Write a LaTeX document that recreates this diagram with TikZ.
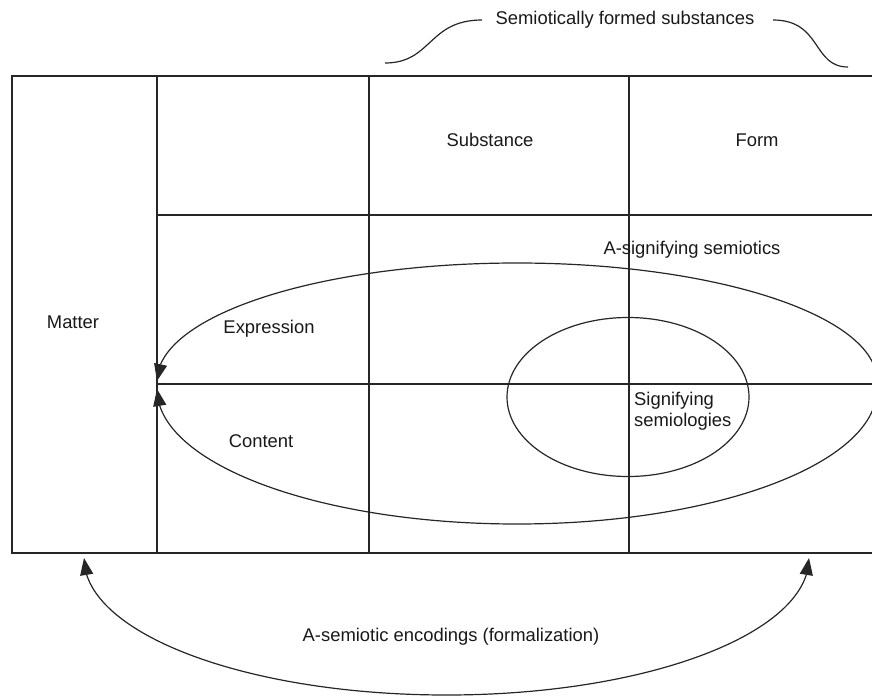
\documentclass[tikz,border=0pt]{standalone}
\usepackage{fontspec}
\setmainfont{Liberation Sans}
\usetikzlibrary{arrows.meta,bending}
\tikzset{hd/.tip={Triangle[length=17pt,width=13pt]}}
\begin{document}
\begin{tikzpicture}[x=1pt,y=-1pt,
  ln/.style={draw=black!85, line width=1.2pt},
  lbl/.style={font=\fontsize{18.4}{20.5}\selectfont, text=black!90, inner sep=0pt},
]
\useasboundingbox (0,0) rectangle (872,696);
\clip (0,0) rectangle (872,696);

% table
\draw[ln] (12,76) rectangle (900,553);
\draw[ln] (157,76) -- (157,553);
\draw[ln] (369,76) -- (369,553);
\draw[ln] (629,76) -- (629,553);
\draw[ln] (157,215) -- (900,215);
\draw[ln] (157,384) -- (900,384);

% labels
\node[lbl] (title) at (625,20) {Semiotically formed substances};
\node[lbl] (subst) at (490,140) {Substance};
\node[lbl] (form) at (757,140) {Form};
\node[lbl] (asig) at (692,250) {A-signifying semiotics};
\node[lbl] (matter) at (73,322) {Matter};
\node[lbl] (expr) at (269,329) {Expression};
\node[lbl] (cont) at (261,441) {Content};
\node[lbl, anchor=west, align=left] (sig) at (634,411) {Signifying\\semiologies};
\node[lbl] (aenc) at (451,637) {A-semiotic encodings (formalization)};

% braces
\coordinate (bl1) at (385,63);
\coordinate (bl2) at (482,20);
\coordinate (br1) at (773,20);
\coordinate (br2) at (848,67);
\draw[ln] (bl1) .. controls (432,63) and (428,20) .. (bl2);
\draw[ln] (br1) .. controls (822,20) and (812,67) .. (br2);

% big ellipse (two arcs)
\coordinate (eU) at (877,381);
\coordinate (eD) at (877,389);
\draw[ln, -{hd}] (eU) arc[start angle=0, end angle=-180, x radius=360, y radius=118];
\draw[ln, -{hd}] (eD) arc[start angle=0, end angle=180, x radius=360, y radius=135];

% inner ellipse
\draw[ln] (628,397) ellipse [x radius=121, y radius=79.5];

% bottom arrow
\coordinate (bL) at (84,558);
\draw[ln, {hd}-{hd}] (bL) arc[start angle=180, end angle=0, x radius=362.5, y radius=137];
\end{tikzpicture}
\end{document}
